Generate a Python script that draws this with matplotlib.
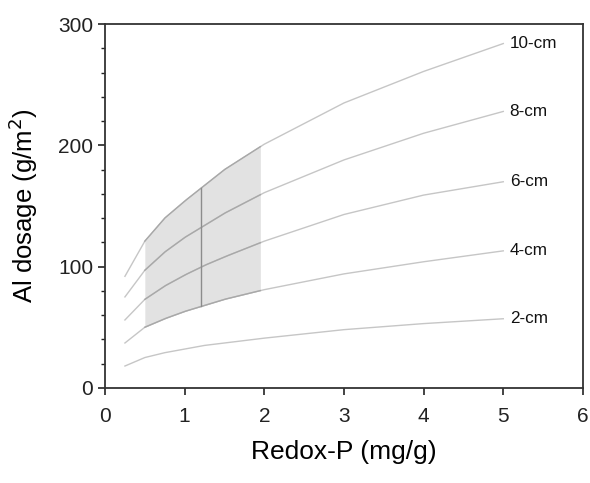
import numpy as np
import matplotlib
matplotlib.use("Agg")
import matplotlib.pyplot as plt
from matplotlib.ticker import MultipleLocator

plt.rcParams['font.family'] = ['Liberation Sans', 'DejaVu Sans']

redox_p = [0.25, 0.5, 0.75, 1.0, 1.25, 1.5, 2.0, 3.0, 4.0, 5.0]
depth_labels = ["2-cm", "4-cm", "6-cm", "8-cm", "10-cm"]
dose_2cm = [18, 25, 29, 32, 35, 37, 41, 48, 53, 57]
dose_4cm = [37, 50, 57, 63, 68, 73, 81, 94, 104, 113]
dose_6cm = [56, 73, 84, 93, 101, 108, 121, 143, 159, 170]
dose_8cm = [75, 97, 112, 124, 134, 144, 161, 188, 210, 228]
dose_10cm = [92, 121, 140, 154, 167, 180, 201, 235, 261, 284]
series = [dose_2cm, dose_4cm, dose_6cm, dose_8cm, dose_10cm]

shade_lo, shade_hi = 0.5, 1.95
marker_x = 1.21

fig = plt.figure(figsize=(5.9, 4.83), dpi=100)
ax = fig.add_axes([0.178, 0.197, 0.81, 0.753])

x = np.array(redox_p, dtype=float)
xs = np.linspace(shade_lo, shade_hi, 200)
xs = np.unique(np.concatenate([xs, x[(x >= shade_lo) & (x <= shade_hi)]]))
lower = np.interp(xs, x, dose_4cm)
upper = np.interp(xs, x, dose_10cm)
ax.fill_between(xs, lower, upper, color='#e2e2e2', lw=0, zorder=1)

for i, vals in enumerate(series):
    ax.plot(x, vals, color='#c6c6c6', lw=1.0, zorder=2)
    if i > 0:
        ax.plot(xs, np.interp(xs, x, vals), color='#a8a8a8', lw=1.0, zorder=3)

ax.plot([marker_x, marker_x],
        [np.interp(marker_x, x, dose_4cm), np.interp(marker_x, x, dose_10cm)],
        color='#8c8c8c', lw=1.0, zorder=4)

for lab, vals in zip(depth_labels, series):
    ax.text(5.08, vals[-1], lab, fontsize=12.3, va='center', ha='left', color='#111111')

ax.set_xlim(0, 6)
ax.set_ylim(0, 300)
ax.xaxis.set_major_locator(MultipleLocator(1))
ax.yaxis.set_major_locator(MultipleLocator(100))
ax.yaxis.set_minor_locator(MultipleLocator(20))
ax.tick_params(axis='both', which='major', labelsize=15, length=5, width=1.2, direction='out', colors='#222222')
ax.tick_params(axis='x', which='major', pad=9)
ax.tick_params(axis='y', which='minor', length=3, width=1.0, direction='out', colors='#222222')
for s in ax.spines.values():
    s.set_linewidth(1.3)
    s.set_color('#333333')

ax.set_xlabel('Redox-P (mg/g)', fontsize=19, labelpad=10)
ax.set_ylabel('Al dosage (g/m$^2$)', fontsize=18.5, labelpad=13)

fig.savefig('out.png', dpi=100)
